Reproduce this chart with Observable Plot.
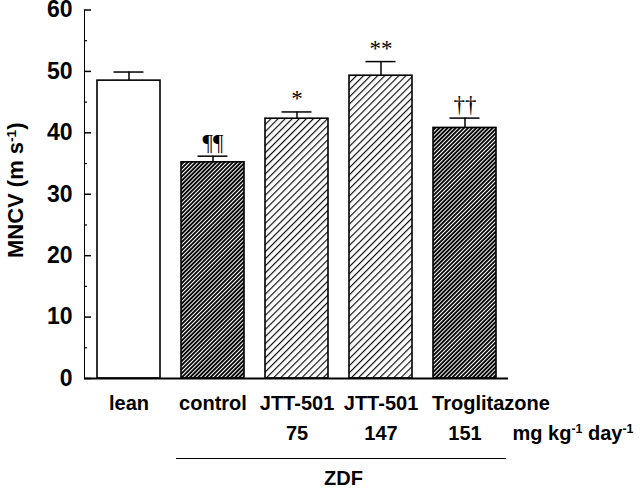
<!DOCTYPE html>
<html><head><meta charset="utf-8">
<script src="https://cdn.jsdelivr.net/npm/d3@7"></script>
<script src="https://cdn.jsdelivr.net/npm/@observablehq/plot@0.6"></script>
<style>body{margin:0;background:#fff}</style>
</head><body><div id="chart"></div>
<script>
// ---- data ----
const groupKeys = ["lean", "control", "JTT-501 75", "JTT-501 147", "Troglitazone 151"];
const groupLabels = ["lean", "control", "JTT-501", "JTT-501", "Troglitazone"];
const doses = ["", "", "75", "147", "151"];
const mncv = [48.5, 35.2, 42.3, 49.3, 40.8];
const sem = [1.4, 1.0, 1.1, 2.3, 1.6];
const signif = ["", "¶¶", "*", "**", "††"];
const yTicks = [0, 10, 20, 30, 40, 50, 60];
const yMinorTicks = [5, 15, 25, 35, 45, 55];
const yLabel = "MNCV (m s-1)";
const doseUnit = "mg kg-1 day-1";
const strainLabel = "ZDF";

// ---- styling ----
const barFill = {
  "lean": "white",
  "control": "url(#hatchDense)",
  "JTT-501 75": "url(#hatchSparse)",
  "JTT-501 147": "url(#hatchSparse)",
  "Troglitazone 151": "url(#hatchDense)"
};
const W = 640, H = 491, mL = 84, mR = 132, mT = 9.5, mB = 113;
const plotW = W - mL - mR;
const lastKey = groupKeys[groupKeys.length - 1];

const rows = groupKeys.map((k, i) => ({key: k, label: groupLabels[i], dose: doses[i], value: mncv[i], sem: sem[i], sig: signif[i]}));

const chart = Plot.plot({
  width: W, height: H,
  marginLeft: mL, marginRight: mR, marginTop: mT, marginBottom: mB,
  style: {fontFamily: "'Liberation Sans', Arial, sans-serif", fontWeight: "bold", fontSize: "23px", background: "white", color: "black"},
  x: {type: "band", domain: groupKeys, paddingInner: 0.25, paddingOuter: 0.12, axis: null},
  y: {domain: [0, 60], ticks: yTicks, tickSize: 0, tickPadding: 12, line: true, label: null},
  color: {type: "identity"},
  marks: [
    Plot.ruleY(yTicks, {insetRight: plotW - 7, strokeWidth: 1.5}),
    Plot.ruleY(yMinorTicks, {insetRight: plotW - 3, strokeWidth: 1.2}),
    Plot.barY(rows, {x: "key", y: "value", fill: d => barFill[d.key], stroke: "black", strokeWidth: 1.6}),
    Plot.ruleX(rows, {x: "key", y1: "value", y2: d => d.value + d.sem, strokeWidth: 1.5}),
    Plot.tickY(rows, {x: "key", y: d => d.value + d.sem, insetLeft: 16.5, insetRight: 16.5, strokeWidth: 1.5}),
    Plot.text(rows, {x: "key", y: d => d.value + d.sem, text: "sig", lineAnchor: "bottom", dy: -6, fontFamily: "'Liberation Serif', 'Times New Roman', serif", fontWeight: "normal", fontSize: 23}),
    Plot.ruleY([0], {strokeWidth: 2}),
    Plot.text(rows, {filter: d => d.key !== lastKey, x: "key", text: "label", frameAnchor: "bottom", dy: 31, fontSize: 20}),
    Plot.text(rows, {filter: d => d.key === lastKey, x: "key", text: "label", frameAnchor: "bottom", dx: 26, dy: 31, fontSize: 20}),
    Plot.text(rows, {x: "key", text: "dose", frameAnchor: "bottom", dy: 61, fontSize: 20}),
    Plot.text([doseUnit], {frameAnchor: "bottom-right", textAnchor: "start", dx: 4, dy: 61, fontSize: 20}),
    Plot.ruleY([0], {x1: () => groupKeys[1], x2: () => lastKey, dy: 80, insetLeft: -5, insetRight: -10, strokeWidth: 1.2}),
    Plot.text([strainLabel], {frameAnchor: "bottom", dx: 47, dy: 106, fontSize: 20}),
    Plot.text([yLabel], {frameAnchor: "left", textAnchor: "middle", rotate: -90, dx: -69, dy: -4, fontSize: 22})
  ]
});

const svg = d3.select(chart);
svg.insert("defs", ":first-child").html(`
  <pattern id="hatchSparse" patternUnits="userSpaceOnUse" width="5" height="5" patternTransform="rotate(45)">
    <rect width="5" height="5" fill="white"/>
    <line x1="0.6" y1="0" x2="0.6" y2="5" stroke="black" stroke-width="1.1"/>
  </pattern>
  <pattern id="hatchDense" patternUnits="userSpaceOnUse" width="2.9" height="2.9" patternTransform="rotate(45)">
    <rect width="2.9" height="2.9" fill="white"/>
    <line x1="1" y1="0" x2="1" y2="2.9" stroke="black" stroke-width="1.9"/>
  </pattern>`);

// superscript "-1"
svg.selectAll("text").each(function() {
  const t = this.textContent;
  if (!t.includes("-1") || this.querySelector("tspan")) return;
  const parts = t.split("-1");
  const el = d3.select(this);
  el.text("");
  parts.forEach((p, i) => {
    if (p) el.append("tspan").text(p);
    if (i < parts.length - 1) el.append("tspan").attr("baseline-shift", "super").attr("font-size", "0.62em").text("-1");
  });
});

document.getElementById("chart").appendChild(chart);
</script>
</body></html>
